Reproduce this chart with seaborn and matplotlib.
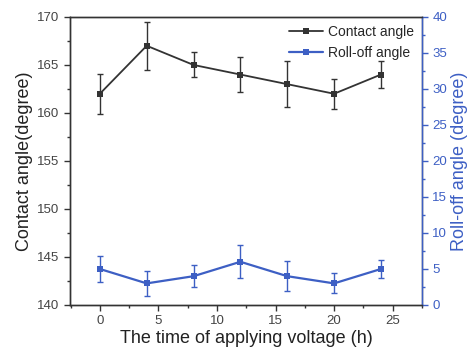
import matplotlib
matplotlib.use("Agg")
import matplotlib.pyplot as plt
import seaborn as sns
import pandas as pd
from matplotlib.ticker import MultipleLocator

time_h = [0, 4, 8, 12, 16, 20, 24]
contact_angle = [162.0, 167.0, 165.0, 164.0, 163.0, 162.0, 164.0]
contact_err = [2.1, 2.5, 1.3, 1.8, 2.4, 1.55, 1.4]
rolloff_angle = [5.0, 3.0, 4.0, 6.0, 4.0, 3.0, 5.0]
rolloff_err = [1.8, 1.75, 1.5, 2.3, 2.1, 1.4, 1.3]

df = pd.DataFrame({"t": time_h, "ca": contact_angle, "ro": rolloff_angle})

sns.set_style("ticks")
plt.rcParams['font.family'] = ['Liberation Sans', 'DejaVu Sans']

black = "#333333"
blue = "#3d5fc4"

fig = plt.figure(figsize=(4.73, 3.53), dpi=100)
ax = fig.add_axes([0.148, 0.136, 0.744, 0.816])
ax2 = ax.twinx()

ax.errorbar(time_h, contact_angle, yerr=contact_err, fmt="none", ecolor=black,
            elinewidth=1, capsize=2.5, capthick=1)
sns.lineplot(data=df, x="t", y="ca", ax=ax, color=black, marker="s",
             markersize=5, markeredgewidth=0, linewidth=1.3, label="Contact angle",
             legend=False)
ax2.errorbar(time_h, rolloff_angle, yerr=rolloff_err, fmt="none", ecolor=blue,
             elinewidth=1, capsize=2.5, capthick=1)
sns.lineplot(data=df, x="t", y="ro", ax=ax2, color=blue, marker="s",
             markersize=5, markeredgewidth=0, linewidth=1.6, label="Roll-off angle",
             legend=False)

ax.set_xlim(-2.55, 27.5)
ax.set_ylim(140, 170)
ax2.set_ylim(0, 40)
ax.xaxis.set_major_locator(MultipleLocator(5))
ax.xaxis.set_minor_locator(MultipleLocator(2.5))
ax.yaxis.set_major_locator(MultipleLocator(5))
ax.yaxis.set_minor_locator(MultipleLocator(2.5))
ax2.yaxis.set_major_locator(MultipleLocator(5))
ax2.yaxis.set_minor_locator(MultipleLocator(2.5))

for a in (ax, ax2):
    for s in a.spines.values():
        s.set_linewidth(1.0)
        s.set_color(black)
ax2.spines["right"].set_color(blue)

ax.tick_params(axis="both", which="major", direction="out", length=4.5, width=1,
               labelsize=9.5, colors=black, labelcolor="#444444", pad=3)
ax.tick_params(axis="both", which="minor", direction="out", length=2, width=1, colors=black)
ax.tick_params(top=False, which="both")
ax2.tick_params(axis="y", which="major", direction="out", length=4.5, width=1,
                labelsize=9.5, colors=blue, pad=3)
ax2.tick_params(axis="y", which="minor", direction="out", length=2, width=1, colors=blue)

ax.set_xlabel("The time of applying voltage (h)", fontsize=13, color="#222222", labelpad=2)
ax.set_ylabel("Contact angle(degree)", fontsize=13, color="#222222", labelpad=3)
ax2.set_ylabel("Roll-off angle (degree)", fontsize=13, color=blue, labelpad=3)

h1 = ax.get_lines()
h2 = ax2.get_lines()
handles = [l for l in h1 if l.get_label() == "Contact angle"] + \
          [l for l in h2 if l.get_label() == "Roll-off angle"]
ax.legend(handles=handles, labels=["Contact angle", "Roll-off angle"],
          loc="upper right", frameon=False, fontsize=10, handlelength=2.5,
          handletextpad=0.3, borderaxespad=0.2, labelspacing=0.45)

fig.savefig("out.png", dpi=100)
